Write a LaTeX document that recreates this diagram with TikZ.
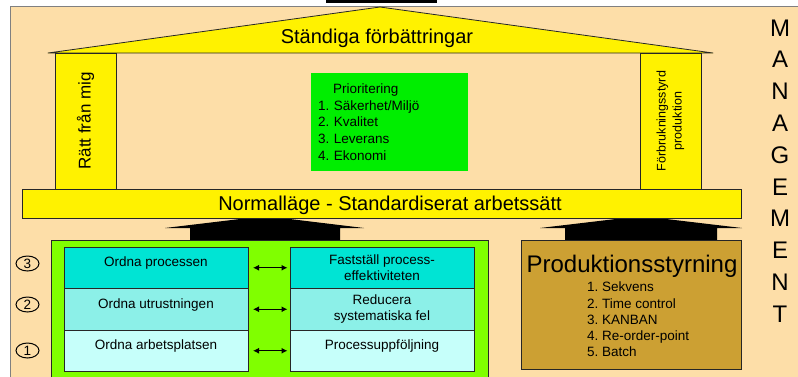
\documentclass[tikz,border=0pt]{standalone}
\usepackage{fontspec}
\setmainfont{Liberation Sans}
\usetikzlibrary{shapes.geometric,arrows.meta}
\frenchspacing

\definecolor{beige}{RGB}{253,222,168}
\definecolor{priogreen}{RGB}{0,238,0}
\definecolor{panelgreen}{RGB}{128,255,0}
\definecolor{turqA}{RGB}{0,228,212}
\definecolor{turqB}{RGB}{140,240,232}
\definecolor{turqC}{RGB}{198,255,250}
\definecolor{gold}{RGB}{204,160,51}

\begin{document}
\begin{tikzpicture}[x=1pt, y=-1pt,
			every node/.style = {inner sep=0pt, outer sep=0pt},
			yellowpart/.style = {draw=black!85, line width=0.8pt, fill=yellow},
			cellbox/.style = {draw=black!85, line width=0.8pt, minimum width=184pt,
				minimum height=41.5pt, align=center, font=\fontsize{13.5}{16.5}\selectfont},
			onetext/.style = {text depth=12pt},
			biarrow/.style = {{Latex[length=6pt,width=6pt]}-{Latex[length=6pt,width=6pt]},
				line width=1.1pt, shorten <=5pt, shorten >=2.5pt},
			nummark/.style = {draw, ellipse, line width=1pt, minimum width=23pt,
				minimum height=15pt, font=\fontsize{13.5}{13.5}\selectfont}]
	\useasboundingbox (0,0) rectangle (798,376);
	\clip (0,0) rectangle (798,376);
	\fill[beige] (10,6) rectangle (800,380);
	\draw[gray, line width=0.8pt] (10,380) -- (10,6) -- (800,6);
	\fill[black] (326,0) rectangle (437,3);

	% roof and pillars
	\draw[yellowpart, line join=round] (48,53) -- (380,7) -- (713,53) -- cycle;
	\node (roof) at (377,38) {\fontsize{20}{20}\selectfont Ständiga förbättringar};
	\node[yellowpart, rotate=90, minimum width=136pt, minimum height=61pt,
		font=\fontsize{17}{17}\selectfont] (leftpillar) at (85.5,121) {Rätt från mig};
	\node[yellowpart, rotate=90, minimum width=136pt, minimum height=61pt, align=center,
		font=\fontsize{12.5}{16}\selectfont] (rightpillar) at (670.5,121)
		{Förbrukningsstyrd\\produktion};
	\node[fill=priogreen, minimum width=157pt, minimum height=98pt, text width=143pt,
		align=left, font=\fontsize{13.5}{16.7}\selectfont] (prio) at (389.5,122)
		{\hspace*{15pt}Prioritering\\1. Säkerhet/Miljö\\2. Kvalitet\\3. Leverans\\4. Ekonomi};

	% block arrows under the beam
	\fill (165,228) -- (265,216) -- (364,228) -- (340,228) -- (340,241) -- (190,241) -- (190,228) -- cycle;
	\fill (540,228) -- (641,216) -- (742,228) -- (717,228) -- (717,241) -- (565,241) -- (565,228) -- cycle;
	\node[yellowpart, minimum width=719pt, minimum height=29pt, text depth=0pt,
		font=\fontsize{20}{20}\selectfont] (beam) at (381.5,203.5)
		{\hspace*{17pt}Normalläge - Standardiserat arbetssätt};

	% foundation
	\node[draw=black!85, line width=0.8pt, fill=panelgreen, minimum width=437pt,
		minimum height=140pt, anchor=north west] (panel) at (51,240) {};
	\node[cellbox, onetext, fill=turqA] (ordna3) at (156,267.75) {Ordna processen};
	\node[cellbox, onetext, fill=turqB] (ordna2) at (156,309.25) {Ordna utrustningen};
	\node[cellbox, onetext, fill=turqC] (ordna1) at (156,350.75) {Ordna arbetsplatsen};
	\node[cellbox, fill=turqA] (steg3) at (382,267.75) {Fastställ process-\\effektiviteten};
	\node[cellbox, fill=turqB] (steg2) at (382,309.25) {Reducera\\systematiska fel};
	\node[cellbox, onetext, fill=turqC] (steg1) at (382,350.75) {Processuppföljning};
	\draw[biarrow] (ordna3) -- (steg3);
	\draw[biarrow] (ordna2) -- (steg2);
	\draw[biarrow] (ordna1) -- (steg1);
	\node[nummark] (num3) at (27.5,263.5) {3};
	\node[nummark] (num2) at (27.5,304.5) {2};
	\node[nummark] (num1) at (27.5,350.5) {1};

	\node[draw=black!85, line width=0.8pt, fill=gold, minimum width=220pt,
		minimum height=129pt, anchor=north west] (prod) at (521,240) {};
	\node[font=\fontsize{24}{24}\selectfont] (prodtitle) at (632,266) {Produktionsstyrning};
	\node[anchor=north west, align=left, font=\fontsize{13.5}{16.3}\selectfont] (prodlist)
		at (587,282) {1. Sekvens\\2. Time control\\3. KANBAN\\4. Re-order-point\\5. Batch};

	\node[align=center, font=\fontsize{24}{31.8}\selectfont] (mgmt) at (780,171)
		{M\\A\\N\\A\\G\\E\\M\\E\\N\\T};
\end{tikzpicture}
\end{document}
